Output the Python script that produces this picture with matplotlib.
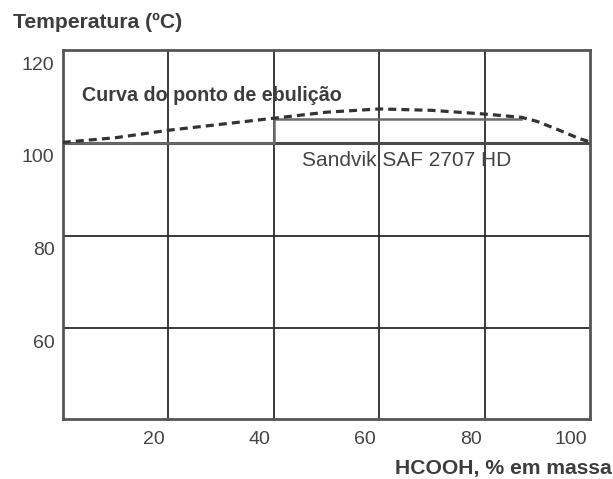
import numpy as np
import matplotlib
matplotlib.use("Agg")
from matplotlib import pyplot as plt
from matplotlib.transforms import ScaledTranslation

plt.rcParams['font.family'] = ['Liberation Sans', 'DejaVu Sans']

# boiling point curve (dashed)
boil_x = [0, 10, 20, 30, 40, 50, 60, 70, 80, 87, 90, 94, 98, 100]
boil_y = [100.1, 101.1, 102.7, 104.0, 105.3, 106.6, 107.3, 107.0, 106.2, 105.5, 104.6, 102.8, 100.9, 100.2]

# Sandvik SAF 2707 HD iso-corrosion line (solid)
saf_x = [0, 40, 40, 87]
saf_y = [100, 100, 105.2, 105.2]

x_ticks = [20, 40, 60, 80, 100]
y_ticks = [60, 80, 100, 120]
x_ticklabels = ['20', '40', '60', '80', '100']
y_ticklabels = ['60', '80', '100', '120']

txt = '#3d3d3d'
fig = plt.figure(figsize=(6.13, 4.79), dpi=100)
ax = fig.add_axes([0.1023, 0.1253, 0.8602, 0.7703])

ax.set_xlim(0, 100)
ax.set_ylim(40.5, 119.0)

# grid
for gx in [20, 40, 60, 80]:
    ax.axvline(gx, color='#2b2b2b', lw=1.3, zorder=1)
for gy in [60, 80]:
    ax.axhline(gy, color='#2b2b2b', lw=1.3, zorder=1)
ax.axhline(100, color='#4a4a4a', lw=2.2, zorder=1)

ax.plot(saf_x, saf_y, color='#6a6a6a', lw=1.8, zorder=2)
ax.plot(boil_x, boil_y, color='#333333', lw=2.3, ls=(0, (2.5, 1.6)), zorder=3)

for s in ax.spines.values():
    s.set_color('#555555')
    s.set_linewidth(2.0)

ax.set_xticks(x_ticks)
ax.set_xticklabels(x_ticklabels)
ax.set_yticks(y_ticks)
ax.set_yticklabels(y_ticklabels)
ax.tick_params(length=0, labelsize=14, labelcolor='#444444')
ax.tick_params(axis='x', pad=9)
ax.tick_params(axis='y', pad=6)

for lab in ax.get_xticklabels():
    lab.set_ha('right')
    lab.set_transform(lab.get_transform() + ScaledTranslation(-0.03, 0, fig.dpi_scale_trans))
for lab in ax.get_yticklabels():
    lab.set_transform(lab.get_transform() + ScaledTranslation(0, -0.13, fig.dpi_scale_trans))

ax.text(3.6, 110.1, 'Curva do ponto de ebulição', fontsize=14.2, fontweight='bold',
        color=txt, ha='left', va='center', zorder=4)
ax.text(45.3, 96.3, 'Sandvik SAF 2707 HD', fontsize=15, color='#444444',
        ha='left', va='center', zorder=4)

fig.text(0.0207, 0.9526, 'Temperatura (ºC)', fontsize=15.2, fontweight='bold',
         color=txt, ha='left', va='center')
fig.text(0.998, 0.0223, 'HCOOH, % em massa', fontsize=15.2, fontweight='bold',
         color=txt, ha='right', va='center')

fig.savefig('out.png', dpi=100)
